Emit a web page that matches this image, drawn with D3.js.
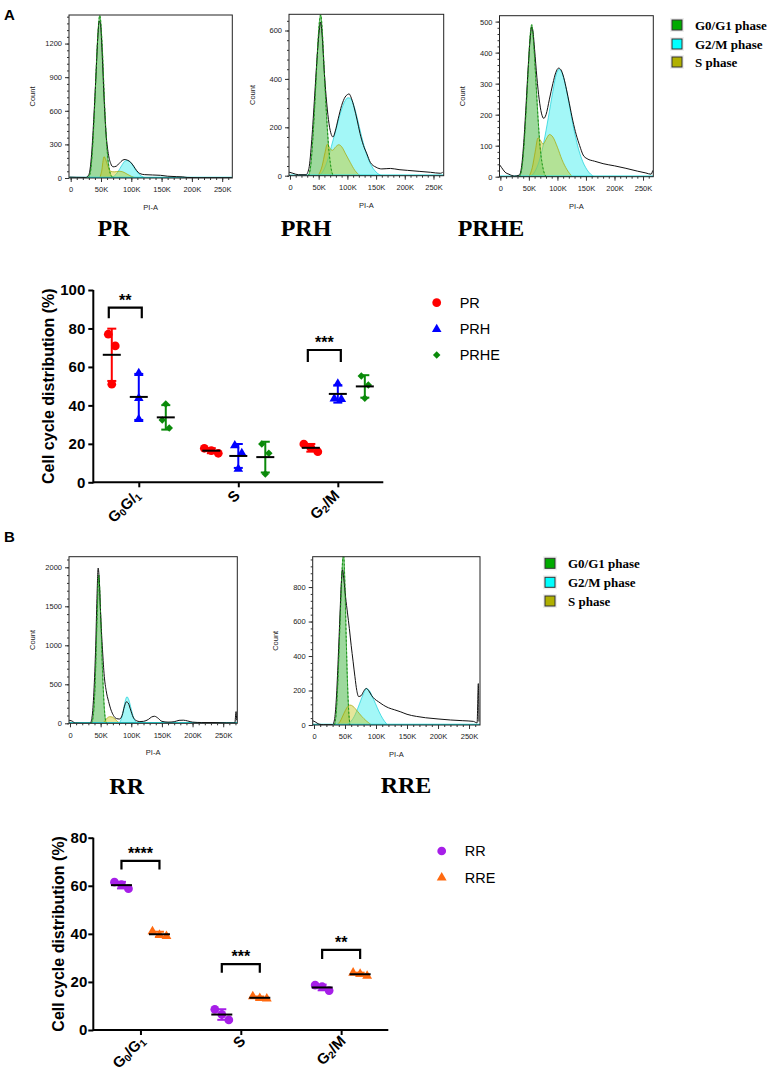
<!DOCTYPE html>
<html>
<head>
<meta charset="utf-8">
<script src="https://cdn.jsdelivr.net/npm/d3@7"></script>
<style>
body { margin: 0; background: #fff; }
svg { display: block; }
</style>
</head>
<body>
<div id="fig"></div>
<script>
// ---------- histogram data: [PI-A (K), count] ----------
const phaseNames = ['G0/G1 phase', 'G2/M phase', 'S phase'];
const histTicksK = [0, 50, 100, 150, 200, 250];

const prTotal = [[-2,8],[10,6],[25,5],[30,30],[34,180],[38,520],[42,950],[45,1280],[47,1400],[49,1380],[52,1100],[55,720],[58,420],[62,220],[66,130],[70,100],[75,105],[80,130],[86,160],[90,165],[94,158],[99,140],[104,105],[109,65],[114,40],[122,30],[135,27],[148,24],[160,16],[175,12],[185,10],[192,5],[210,3],[266,3]];
const prG1 = [[28,0],[32,40],[36,260],[40,700],[44,1200],[48,1450],[52,1180],[56,650],[60,260],[64,70],[68,12],[71,0]];
const prS = [[48,0],[51,60],[55,190],[58,160],[62,95],[66,60],[72,55],[80,60],[86,55],[93,35],[100,15],[108,0]];
const prG2 = [[66,0],[72,18],[78,55],[84,110],[89,148],[93,157],[98,145],[103,110],[108,65],[114,28],[120,8],[126,0]];

const prhTotal = [[-2,15],[5,10],[15,4],[28,4],[33,30],[38,150],[43,330],[47,480],[51,600],[53.5,635],[56,580],[60,420],[64,300],[68,215],[72,170],[75,160],[79,185],[84,235],[90,290],[96,325],[100,335],[103,338],[107,320],[112,280],[117,230],[122,175],[128,125],[134,90],[140,55],[150,35],[160,28],[175,30],[190,25],[205,22],[225,18],[245,14],[262,10],[266,14]];
const prhG1 = [[32,0],[36,40],[40,160],[44,330],[48,520],[51,630],[53.5,665],[56,610],[59,470],[63,280],[67,130],[71,40],[75,0]];
const prhS = [[49,0],[56,40],[61,95],[65,130],[69,115],[74,105],[80,120],[85,128],[90,120],[97,90],[105,55],[113,22],[122,0]];
const prhG2 = [[50,0],[58,20],[65,60],[72,120],[80,190],[88,260],[95,305],[101,322],[106,318],[112,285],[118,230],[125,160],[132,100],[140,50],[150,15],[160,0]];

const prheTotal = [[-2,40],[2,30],[8,15],[15,8],[25,2],[33,5],[37,30],[41,110],[45,230],[49,360],[52,440],[55,482],[57,470],[60,410],[64,320],[68,250],[72,205],[76,188],[80,200],[86,250],[92,300],[97,335],[102,350],[106,345],[111,320],[116,280],[121,235],[127,180],[133,135],[139,100],[145,70],[152,58],[165,50],[180,42],[200,35],[220,27],[240,18],[255,12],[264,8],[267,20]];
const prheG1 = [[33,0],[37,20],[41,90],[45,210],[49,350],[52,450],[55,490],[58,440],[62,320],[66,190],[70,90],[75,25],[80,0]];
const prheS = [[50,0],[56,30],[61,80],[66,125],[70,118],[75,105],[80,120],[86,136],[92,128],[100,95],[108,55],[117,22],[126,0]];
const prheG2 = [[52,0],[60,15],[68,50],[76,110],[84,190],[92,275],[98,330],[103,346],[108,335],[114,295],[120,240],[127,170],[134,110],[142,60],[152,22],[164,0]];

const rrTotal = [[-1.5,40],[3,30],[9,2],[20,0],[33,0],[36,80],[39,400],[42,1000],[44,1600],[46,1990],[48,1800],[50,1400],[53,950],[56,600],[59,420],[63,280],[67,170],[71,100],[76,60],[81,55],[85,100],[89,220],[92,275],[95,260],[99,170],[103,80],[108,35],[114,22],[120,25],[128,50],[133,80],[138,90],[143,70],[150,25],[160,15],[170,20],[178,38],[185,40],[192,30],[200,15],[215,10],[235,10],[255,6],[269,5],[271,150],[272,40]];
const rrG1 = [[35,0],[38,100],[41,500],[44,1300],[47,1900],[50,1400],[53,700],[56,200],[58,40],[60,0]];
const rrS = [[53,0],[57,30],[61,70],[65,85],[69,80],[74,50],[78,20],[82,0]];
const rrG2 = [[79,0],[83,40],[87,160],[90,280],[93,340],[96,300],[100,180],[104,70],[107,20],[110,0]];

const rreTotal = [[-2,25],[2,18],[8,5],[15,2],[30,2],[33,30],[36,150],[39,380],[42,650],[44,820],[46,900],[48,850],[51,740],[54,650],[57,560],[60,460],[63,370],[66,280],[69,200],[72,165],[76,170],[80,195],[84,212],[88,200],[93,170],[98,150],[104,135],[112,115],[120,100],[130,88],[140,76],[150,62],[165,50],[180,42],[200,35],[220,29],[240,25],[257,21],[263,12],[265,240],[266,20]];
const rreG1 = [[33,0],[36,80],[39,300],[42,600],[45,880],[47.5,1000],[50,800],[52,500],[54,250],[56,80],[58,0]];
const rreS = [[36,0],[42,20],[48,65],[53,100],[58,116],[63,108],[70,80],[77,50],[84,25],[93,0]];
const rreG2 = [[52,0],[58,15],[65,50],[72,110],[79,175],[85,212],[90,195],[96,150],[102,100],[108,55],[114,20],[119,0]];

// ---------- cell cycle distribution (%), rows = G0/G1, S, G2/M ----------
const cyclePhases = ['G0G1', 'S', 'G2M'];
const seriesA = ['PR', 'PRH', 'PRHE'];
const seriesB = ['RR', 'RRE'];
const prValues = [[77.0, 70.9, 51.0], [17.7, 15.1, 16.5], [19.9, 18.0, 15.9]];
const prhValues = [[56.7, 43.7, 32.8], [19.1, 15.1, 6.9], [51.2, 43.5, 43.2]];
const prheValues = [[40.7, 32.4, 28.2], [19.9, 15.1, 4.3], [55.3, 50.6, 43.7]];
const rrValues = [[61.5, 60.5, 58.8], [8.6, 6.5, 4.2], [18.7, 18.0, 16.4]];
const rreValues = [[41.0, 39.0, 39.5], [14.0, 13.0, 13.2], [23.8, 23.3, 22.5]];
const yTicksA = [0, 20, 40, 60, 80, 100];
const yTicksB = [0, 20, 40, 60, 80];
// significance brackets: phase, pair, label, bracket top / leg end (%)
const sigA = [['G0G1', 'PR', 'PRH', '**', 90.8, 85.3], ['G2M', 'PR', 'PRH', '***', 68.8, 62.6]];
const sigB = [['G0G1', 'RR', 'RRE', '****', 70.4, 66.8], ['S', 'RR', 'RRE', '***', 27.4, 23.8], ['G2M', 'RR', 'RRE', '**', 33.3, 29.5]];

const sans = 'Liberation Sans, Arial, Helvetica, sans-serif';
const serif = 'Liberation Serif, Times New Roman, serif';

const svg = d3.select('#fig').append('svg')
  .attr('width', 770)
  .attr('height', 1075);

// panel letters
svg.append('text').attr('x', 4).attr('y', 20).text('A')
  .attr('font-family', sans).attr('font-weight', 'bold').attr('font-size', 15);
svg.append('text').attr('x', 4).attr('y', 542).text('B')
  .attr('font-family', sans).attr('font-weight', 'bold').attr('font-size', 15);

// ---------- histograms ----------
const phaseFill = { g1: '#3cb43c', g2: '#33eeee', s: '#c8c820' };
const phaseStroke = { g1: '#1c961c', g2: '#12cfd8', s: '#a6a600' };

function drawHist(h) {
  const x = d3.scaleLinear().domain([h.x0, h.x1]).range([h.left, h.right]);
  const y = d3.scaleLinear().domain([0, h.yMax]).range([h.bottom, h.top]);
  const g = svg.append('g');
  const clipId = 'clip-' + h.name;
  svg.append('clipPath').attr('id', clipId).append('rect')
    .attr('x', h.left).attr('y', h.top)
    .attr('width', h.right - h.left).attr('height', h.bottom - h.top);

  const area = d3.area().x(d => x(d[0])).y0(y(0)).y1(d => y(d[1])).curve(d3.curveMonotoneX);
  const line = d3.line().x(d => x(d[0])).y(d => y(d[1])).curve(d3.curveMonotoneX);
  const plot = g.append('g').attr('clip-path', `url(#${clipId})`);

  [['g1', h.g1, 0.5], ['g2', h.g2, 0.45], ['s', h.s, 0.45]].forEach(([k, d, op]) => {
    plot.append('path').datum(d).attr('d', area)
      .attr('fill', phaseFill[k]).attr('fill-opacity', op)
      .attr('stroke', phaseStroke[k]).attr('stroke-width', 0.7);
  });
  plot.append('line')
    .attr('x1', h.left).attr('x2', h.right).attr('y1', y(0) - 0.5).attr('y2', y(0) - 0.5)
    .attr('stroke', '#22dddd').attr('stroke-width', 1.5);
  plot.append('path').datum(h.total).attr('d', line)
    .attr('fill', 'none').attr('stroke', '#111').attr('stroke-width', 1);
  plot.append('path').datum(h.g1).attr('d', line)
    .attr('fill', 'none').attr('stroke', '#1c961c').attr('stroke-width', 1)
    .attr('stroke-dasharray', '2,2');

  // frame
  g.append('rect').attr('x', h.left).attr('y', h.top)
    .attr('width', h.right - h.left).attr('height', h.bottom - h.top)
    .attr('fill', 'none').attr('stroke', '#222').attr('stroke-width', 1);

  // axes
  const axisStyle = sel => {
    sel.select('.domain').remove();
    sel.selectAll('line').attr('stroke', '#333');
    sel.selectAll('text').attr('font-family', sans).attr('font-size', 7.5).attr('fill', '#222');
  };
  g.append('g').attr('transform', `translate(0,${h.bottom})`)
    .call(d3.axisBottom(x).tickValues(d3.range(0, h.x1, 10)).tickSize(2).tickFormat(''))
    .call(axisStyle);
  g.append('g').attr('transform', `translate(0,${h.bottom})`)
    .call(d3.axisBottom(x).tickValues(histTicksK).tickSize(4).tickPadding(5)
      .tickFormat(d => d === 0 ? '0' : d + 'K'))
    .call(axisStyle);
  g.append('g').attr('transform', `translate(${h.left},0)`)
    .call(d3.axisLeft(y).tickValues(d3.range(0, h.yMax, h.yMinor)).tickSize(2).tickFormat(''))
    .call(axisStyle);
  g.append('g').attr('transform', `translate(${h.left},0)`)
    .call(d3.axisLeft(y).tickValues(h.yTicks).tickSize(4).tickPadding(3).tickFormat(d3.format('d')))
    .call(axisStyle);

  g.append('text')
    .attr('transform', `translate(${h.left - 37},${(h.top + h.bottom) / 2}) rotate(-90)`)
    .attr('text-anchor', 'middle').attr('dy', '0.35em')
    .attr('font-family', sans).attr('font-size', 7.5).attr('fill', '#222')
    .text('Count');
  g.append('text')
    .attr('x', (h.left + h.right) / 2).attr('y', h.bottom + 32)
    .attr('text-anchor', 'middle')
    .attr('font-family', sans).attr('font-size', 7.5).attr('fill', '#222')
    .text('PI-A');
  g.append('text')
    .attr('x', h.titleX).attr('y', h.titleY)
    .attr('text-anchor', 'middle')
    .attr('font-family', serif).attr('font-weight', 'bold').attr('font-size', 24)
    .text(h.name);
}

drawHist({ name: 'PR', total: prTotal, g1: prG1, s: prS, g2: prG2, yMax: 1455, yTicks: [0, 300, 600, 900, 1200], yMinor: 60,
  x0: -2.8, x1: 266.7, left: 69, right: 232.3, top: 15, bottom: 178, titleX: 113.5, titleY: 236 });
drawHist({ name: 'PRH', total: prhTotal, g1: prhG1, s: prhS, g2: prhG2, yMax: 667, yTicks: [0, 200, 400, 600], yMinor: 40,
  x0: -1.7, x1: 267.8, left: 289, right: 443.7, top: 14.3, bottom: 175.7, titleX: 306, titleY: 236 });
drawHist({ name: 'PRHE', total: prheTotal, g1: prheG1, s: prheS, g2: prheG2, yMax: 519, yTicks: [0, 100, 200, 300, 400, 500], yMinor: 20,
  x0: -1.5, x1: 268, left: 499.5, right: 653.3, top: 15.7, bottom: 176.7, titleX: 491, titleY: 236 });
drawHist({ name: 'RR', total: rrTotal, g1: rrG1, s: rrS, g2: rrG2, yMax: 2136, yTicks: [0, 500, 1000, 1500, 2000], yMinor: 100,
  x0: -1.6, x1: 273, left: 69, right: 237.3, top: 556.7, bottom: 723.3, titleX: 126.7, titleY: 794 });
drawHist({ name: 'RRE', total: rreTotal, g1: rreG1, s: rreS, g2: rreG2, yMax: 976, yTicks: [0, 200, 400, 600, 800], yMinor: 40,
  x0: -2.1, x1: 267.7, left: 312.7, right: 480, top: 556.7, bottom: 725, titleX: 406, titleY: 793 });

// phase legends
const legendColors = ['#00aa00', '#00ffff', '#b0b000'];
function drawPhaseLegend(x0, yRows) {
  const lg = svg.append('g');
  phaseNames.forEach((name, i) => {
    lg.append('rect').attr('x', x0 - 2).attr('y', yRows[i] - 7).attr('width', 14).attr('height', 14).attr('fill', '#eeeeee');
    lg.append('rect').attr('x', x0).attr('y', yRows[i] - 5).attr('width', 10).attr('height', 10)
      .attr('fill', legendColors[i]).attr('stroke', '#333').attr('stroke-width', 1);
    lg.append('text').attr('x', x0 + 23).attr('y', yRows[i] + 4.5)
      .attr('font-family', serif).attr('font-weight', 'bold').attr('font-size', 13)
      .text(name);
  });
}
drawPhaseLegend(672, [25, 44, 62]);
drawPhaseLegend(545, [563.3, 582.3, 601]);

// ---------- dot plots ----------
const markerColor = { PR: '#ff0000', PRH: '#0000ff', PRHE: '#0a8a0a', RR: '#a61ee8', RRE: '#ff6a10' };
const markerShape = {
  PR: d3.symbol(d3.symbolCircle, 60), PRH: d3.symbol(d3.symbolTriangle, 40), PRHE: d3.symbol(d3.symbolSquare, 28),
  RR: d3.symbol(d3.symbolCircle, 60), RRE: d3.symbol(d3.symbolTriangle, 42)
};
const markerRotate = { PRHE: 45 };

function phaseLabel(sel, parts) {
  parts.forEach(([t, sub], i) => {
    const prevSub = i > 0 && parts[i - 1][1];
    sel.append('tspan').text(t)
      .attr('font-size', sub ? 10 : 15)
      .attr('dy', sub ? 2 : (prevSub ? -2 : 0));
  });
}

function drawDots(c) {
  const g = svg.append('g');
  const y = d3.scaleLinear().domain([0, c.yMax]).range([c.bottom, c.top]);
  const x = d3.scalePoint().domain(cyclePhases).range([c.left, c.right]).padding(c.pad);
  const off = d3.scalePoint().domain(c.series).range(c.offRange);

  const gy = g.append('g').attr('transform', `translate(${c.left},0)`)
    .call(d3.axisLeft(y).tickValues(c.yTicks).tickSize(5).tickSizeOuter(0).tickPadding(c.yPad));
  const gx = g.append('g').attr('transform', `translate(0,${c.bottom})`)
    .call(d3.axisBottom(x).tickSize(5).tickSizeOuter(0).tickFormat(''));
  [gy, gx].forEach(a => {
    a.selectAll('path,line').attr('stroke', '#000').attr('stroke-width', 2);
    a.selectAll('text').attr('font-family', sans).attr('font-weight', 'bold').attr('font-size', 15).attr('fill', '#000');
  });
  gx.select('.domain').attr('d', `M${c.left},0H${c.right}`);
  gy.select('.domain').attr('d', `M0,${c.bottom + 1}V${c.top}`);

  gx.selectAll('.tick').append('text')
    .attr('text-anchor', 'end')
    .attr('transform', `translate(${c.lblDx},${c.lblDy}) rotate(-45)`)
    .attr('dy', '0.35em')
    .attr('font-family', sans).attr('font-weight', 'bold').attr('fill', '#000')
    .each(function (d, i) { phaseLabel(d3.select(this), c.labels[i]); });

  g.append('text')
    .attr('transform', `translate(${c.titleX},${(c.top + c.bottom) / 2}) rotate(-90)`)
    .attr('text-anchor', 'middle').attr('dy', '0.35em')
    .attr('font-family', sans).attr('font-weight', 'bold').attr('font-size', 16)
    .text('Cell cycle distribution (%)');

  c.series.forEach((s, si) => {
    cyclePhases.forEach((p, pi) => {
      const vals = c.values[si][pi];
      const cx = x(p) + off(s);
      const m = d3.mean(vals);
      const sd = d3.deviation(vals);
      const col = markerColor[s];
      // error bar
      g.append('line').attr('x1', cx).attr('x2', cx).attr('y1', y(m - sd)).attr('y2', y(m + sd))
        .attr('stroke', col).attr('stroke-width', 2);
      [m - sd, m + sd].forEach(v => g.append('line')
        .attr('x1', cx - c.capW / 2).attr('x2', cx + c.capW / 2).attr('y1', y(v)).attr('y2', y(v))
        .attr('stroke', col).attr('stroke-width', 2));
      // points spread sideways when they overlap
      const pts = vals.map(v => ({ v, py: y(v) })).sort((a, b) => a.py - b.py);
      const clusters = [];
      pts.forEach((pt, i) => {
        if (i > 0 && pt.py - pts[i - 1].py < 13) clusters[clusters.length - 1].push(pt);
        else clusters.push([pt]);
      });
      clusters.forEach(cl => cl.forEach((pt, k) => { pt.dx = (k - (cl.length - 1) / 2) * c.spread; }));
      g.selectAll(null).data(pts).enter().append('path')
        .attr('d', markerShape[s])
        .attr('transform', d => `translate(${cx + d.dx},${d.py}) rotate(${markerRotate[s] || 0})`)
        .attr('fill', col);
      // mean
      g.append('line').attr('x1', cx - c.meanW / 2).attr('x2', cx + c.meanW / 2).attr('y1', y(m)).attr('y2', y(m))
        .attr('stroke', '#000').attr('stroke-width', 2);
    });
  });

  // significance brackets
  c.sig.forEach(([p, a, b, label, top, leg]) => {
    const xa = x(p) + off(a) - c.brExt, xb = x(p) + off(b) + c.brExt;
    g.append('path')
      .attr('d', `M${xa},${y(leg)}V${y(top)}H${xb}V${y(leg)}`)
      .attr('fill', 'none').attr('stroke', '#000').attr('stroke-width', 2.2);
    g.append('text').attr('x', (xa + xb) / 2).attr('y', y(top) - 2)
      .attr('text-anchor', 'middle')
      .attr('font-family', sans).attr('font-weight', 'bold').attr('font-size', 16)
      .text(label);
  });

  // series legend
  c.series.forEach((s, i) => {
    const ly = c.legY[i];
    g.append('path').attr('d', markerShape[s])
      .attr('transform', `translate(${c.legX},${ly}) rotate(${markerRotate[s] || 0})`)
      .attr('fill', markerColor[s]);
    g.append('text').attr('x', c.legX + 23).attr('y', ly + 5)
      .attr('font-family', sans).attr('font-size', 14.5)
      .text(s);
  });
}

drawDots({
  series: seriesA, values: [prValues, prhValues, prheValues], yMax: 100, yTicks: yTicksA,
  left: 93.3, right: 383.3, top: 290, bottom: 482.3, pad: 0.457, offRange: [-27, 27],
  capW: 9, meanW: 18, spread: 7, brExt: 3, sig: sigA, titleX: 48, yPad: 3,
  lblDx: 2, lblDy: 14,
  labels: [[['G', 0], ['0', 1], ['G/', 0], ['1', 1]], [['S', 0]], [['G', 0], ['2', 1], ['/M', 0]]],
  legX: 436.7, legY: [302.7, 329.3, 355]
});
drawDots({
  series: seriesB, values: [rrValues, rreValues], yMax: 80, yTicks: yTicksB,
  left: 93.3, right: 388.3, top: 837.7, bottom: 1030, pad: 0.47, offRange: [-19, 19],
  capW: 9, meanW: 21, spread: 7, brExt: 0, sig: sigB, titleX: 58, yPad: 1,
  lblDx: 5, lblDy: 12,
  labels: [[['G', 0], ['0', 1], ['/G', 0], ['1', 1]], [['S', 0]], [['G', 0], ['2', 1], ['/M', 0]]],
  legX: 441.7, legY: [851, 877.7]
});
</script>
</body>
</html>
